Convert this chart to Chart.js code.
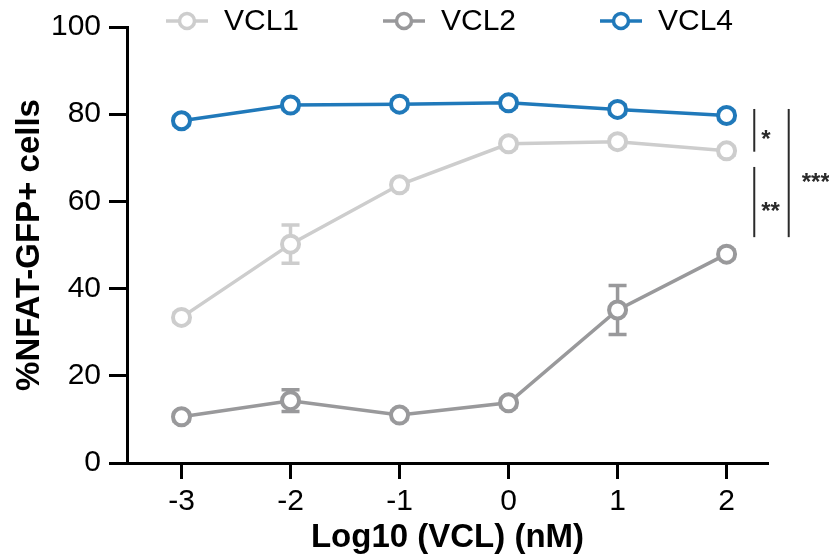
<!DOCTYPE html>
<html>
<head>
<meta charset="utf-8">
<script src="https://cdn.jsdelivr.net/npm/chart.js@4.4.0/dist/chart.umd.min.js"></script>
<style>
  html, body { margin: 0; padding: 0; background: #fff; }
</style>
</head>
<body>
<canvas id="grafico" width="829" height="559"></canvas>
<script>
// Dados (media e erro de cada ponto)
const doses = [-3, -2, -1, 0, 1, 2];
const xTicks = [-3, -2, -1, 0, 1, 2];
const yTicks = [0, 20, 40, 60, 80, 100];

const vcl1 = [33.4, 50.2, 63.8, 73.2, 73.7, 71.6];
const vcl1Erro = [1, 4.4, 1, 1, 1, 1];
const vcl2 = [10.6, 14.3, 11.0, 13.8, 35.1, 47.9];
const vcl2Erro = [1, 2.5, 1, 1, 5.6, 1];
const vcl4 = [78.5, 82.1, 82.3, 82.6, 81.1, 79.7];
const vcl4Erro = [1, 1, 1, 1, 1, 1];

const nomes = ['VCL1', 'VCL2', 'VCL4'];
const cores = ['#cdcdcd', '#99999b', '#2079ba'];

// significancia (faixas no eixo y, posicao x em unidades do eixo)
const sigTexto = ['*', '**', '***'];
const sigFaixa = [[81.2, 71.4], [67.9, 51.8], [81.2, 51.8]];
const sigX = [2.254, 2.254, 2.57];

const fonte = '"Liberation Sans", Arial, Helvetica, sans-serif';

function pontos(ys) {
    return doses.map((x, i) => ({ x: x, y: ys[i] }));
}

function serie(i, ys, erros) {
    return {
        label: nomes[i],
        data: pontos(ys),
        erros: erros,
        borderColor: cores[i],
        backgroundColor: '#fff',
        borderWidth: 3.5,
        pointRadius: 8.5,
        pointBorderWidth: 4,
        pointBackgroundColor: '#fff',
        pointBorderColor: cores[i],
        tension: 0,
        clip: false
    };
}

// barras de erro, desenhadas antes das linhas
const barrasErro = {
    id: 'barrasErro',
    beforeDatasetsDraw(chart) {
        const c = chart.ctx;
        const sx = chart.scales.x, sy = chart.scales.y;
        chart.data.datasets.forEach(ds => {
            ds.data.forEach((p, j) => {
                const e = ds.erros[j];
                if (!e) return;
                const px = sx.getPixelForValue(p.x);
                const yTop = sy.getPixelForValue(p.y + e);
                const yBot = sy.getPixelForValue(p.y - e);
                c.save();
                c.strokeStyle = ds.borderColor;
                c.lineWidth = 3.5;
                c.beginPath();
                c.moveTo(px, yTop); c.lineTo(px, yBot);
                c.moveTo(px - 9, yTop); c.lineTo(px + 9, yTop);
                c.moveTo(px - 9, yBot); c.lineTo(px + 9, yBot);
                c.stroke();
                c.restore();
            });
        });
    }
};

// legenda no topo, por cima da area do grafico
const legenda = {
    id: 'legenda',
    afterDraw(chart) {
        const c = chart.ctx;
        chart.data.datasets.forEach((ds, i) => {
            const x0 = 166 + i * 217;
            const y = 21;
            c.save();
            c.strokeStyle = ds.borderColor;
            c.lineWidth = 3.5;
            c.beginPath(); c.moveTo(x0, y); c.lineTo(x0 + 42, y); c.stroke();
            c.beginPath(); c.arc(x0 + 21, y, 7.5, 0, Math.PI * 2);
            c.fillStyle = '#fff'; c.fill(); c.stroke();
            c.fillStyle = '#000';
            c.font = '30px ' + fonte;
            c.textBaseline = 'middle';
            c.textAlign = 'left';
            c.fillText(ds.label, x0 + 58, y + 1);
            c.restore();
        });
    }
};

// colchetes de significancia a direita
const significancia = {
    id: 'significancia',
    afterDraw(chart) {
        const c = chart.ctx;
        const sx = chart.scales.x, sy = chart.scales.y;
        sigTexto.forEach((t, i) => {
            const px = sx.getPixelForValue(sigX[i]);
            const y1 = sy.getPixelForValue(sigFaixa[i][0]);
            const y2 = sy.getPixelForValue(sigFaixa[i][1]);
            c.save();
            c.strokeStyle = '#2a2a2a';
            c.lineWidth = 2;
            c.beginPath(); c.moveTo(px, y1); c.lineTo(px, y2); c.stroke();
            c.fillStyle = '#2a2a2a';
            c.font = 'bold 24px ' + fonte;
            c.textAlign = 'left';
            c.textBaseline = 'alphabetic';
            c.fillText(t, px + (i == 2 ? 13 : 7), (y1 + y2) / 2 + 17);
            c.restore();
        });
    }
};

const ctx = document.getElementById('grafico');
new Chart(ctx, {
    type: 'line',
    data: {
        datasets: [
            serie(0, vcl1, vcl1Erro),
            serie(1, vcl2, vcl2Erro),
            serie(2, vcl4, vcl4Erro)
        ]
    },
    options: {
        responsive: false,
        animation: false,
        devicePixelRatio: 1,
        layout: { padding: { top: 27, right: 61, left: 0, bottom: 0 } },
        plugins: {
            legend: { display: false },
            tooltip: { enabled: false }
        },
        scales: {
            x: {
                type: 'linear',
                min: -3.5,
                max: 2.38,
                border: { color: '#000', width: 3 },
                grid: { drawOnChartArea: false, tickLength: 16, tickWidth: 3, tickColor: '#000' },
                ticks: { color: '#000', font: { family: fonte, size: 30 }, padding: 5 },
                afterBuildTicks: s => { s.ticks = xTicks.map(v => ({ value: v })); },
                afterFit: s => { s.height = 96; },
                title: {
                    display: true,
                    text: 'Log10 (VCL) (nM)',
                    color: '#000',
                    font: { family: fonte, size: 33, weight: 'bold' },
                    padding: { top: 0, bottom: 1 }
                }
            },
            y: {
                min: 0,
                max: 100,
                border: { color: '#000', width: 3 },
                grid: { drawOnChartArea: false, tickLength: 18, tickWidth: 3, tickColor: '#000' },
                ticks: { color: '#000', font: { family: fonte, size: 30 }, padding: 8 },
                afterBuildTicks: s => { s.ticks = yTicks.map(v => ({ value: v })); },
                afterFit: s => { s.width = 127; },
                title: {
                    display: true,
                    text: '%NFAT-GFP+ cells',
                    color: '#000',
                    font: { family: fonte, size: 33, weight: 'bold' },
                    padding: { top: 10, bottom: 0 }
                }
            }
        }
    },
    plugins: [barrasErro, legenda, significancia]
});
</script>
</body>
</html>
